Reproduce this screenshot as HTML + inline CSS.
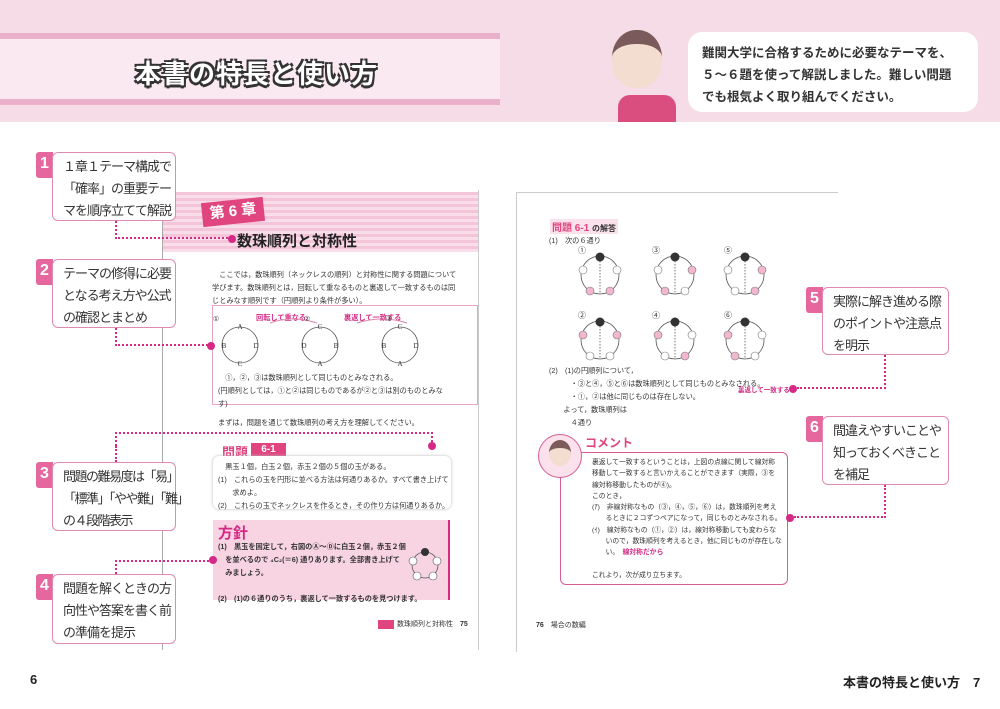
<!DOCTYPE html>
<html><head><meta charset="utf-8"><style>
*{margin:0;padding:0;box-sizing:border-box}
body{width:1000px;height:709px;position:relative;background:#fff;font-family:"Liberation Sans","Noto Sans CJK JP",sans-serif;color:#222;overflow:hidden}
.a{position:absolute}
.cb{position:absolute;background:#fff;border:1.5px solid #e08ab0;border-radius:6px;font-size:13px;letter-spacing:-1px;line-height:22px;padding:3px 0 0 10px;color:#333;white-space:nowrap}
.bd{position:absolute;width:17px;height:26px;background:#e5679e;color:#fff;font-weight:bold;font-size:16px;text-align:center;line-height:24px;border-radius:3px 0 0 3px}
.dl{position:absolute;border-color:#d42a85;border-style:dotted;border-width:0}
.dot{position:absolute;width:8px;height:8px;border-radius:50%;background:#d42a85}
.t{position:absolute;font-size:7.2px;line-height:13px;color:#333;white-space:nowrap}
</style></head><body>
<!-- header -->
<div class="a" style="left:0;top:0;width:1000px;height:122px;background:#f6dce7"></div>
<div class="a" style="left:0;top:33px;width:500px;height:72px;background:#fbe9f1;border-top:6px solid #eab0c9;border-bottom:6px solid #eab0c9"></div>
<div class="a" style="left:135px;top:54px;font-size:26px;font-weight:bold;color:#fff;letter-spacing:1px;text-shadow:-2px -2px 0 #333,2px -2px 0 #333,-2px 2px 0 #333,2px 2px 0 #333,0 3px 0 #333">本書の特長と使い方</div>
<!-- character -->
<div class="a" style="left:612px;top:30px;width:50px;height:58px;border-radius:48% 48% 45% 45%;background:#f3dcd0;border-top:14px solid #7a5a5a"></div>
<div class="a" style="left:618px;top:95px;width:58px;height:27px;background:#d94e7e;border-radius:12px 12px 0 0"></div>
<div class="a" style="left:688px;top:32px;width:290px;height:80px;background:#fff;border-radius:14px"></div>
<div class="a" style="left:702px;top:42px;font-size:12.5px;font-weight:bold;line-height:22px;color:#333;white-space:nowrap">難関大学に合格するために必要なテーマを、<br>５～６題を使って解説しました。難しい問題<br>でも根気よく取り組んでください。</div>

<!-- left page -->
<div class="a" style="left:162px;top:190px;width:317px;height:460px;border-left:1.5px solid #aaa;border-right:1px solid #ccc"></div>
<div class="a" style="left:163px;top:192px;width:315px;height:60px;background:repeating-linear-gradient(#f4c5d8 0 3px,#f9dde8 3px 6px)"></div>
<div class="a" style="left:202px;top:200px;width:62px;height:24px;background:#e0457f;color:#fff;font-weight:bold;font-size:15px;text-align:center;line-height:24px;transform:rotate(-6deg)">第 6 章</div>
<div class="a" style="left:237px;top:230px;font-size:15px;font-weight:bold;color:#222">数珠順列と対称性</div>
<div class="t" style="left:212px;top:268px">　ここでは，数珠順列（ネックレスの順列）と対称性に関する問題について<br>学びます。数珠順列とは，回転して重なるものと裏返して一致するものは同<br>じとみなす順列です（円順列より条件が多い）。</div>
<div class="a" style="left:212px;top:305px;width:266px;height:100px;border:1px solid #e8a5c3"></div>
<div class="t" style="left:256px;top:311px;color:#d42a85;font-weight:bold">回転して重なる</div>
<div class="t" style="left:344px;top:311px;color:#d42a85;font-weight:bold">裏返して一致する</div>
<svg class="a" style="left:212px;top:305px" width="266" height="70">
<g fill="none" stroke="#555" stroke-width="0.8"><circle cx="28" cy="40" r="18"/><circle cx="108" cy="40" r="18"/><circle cx="188" cy="40" r="18"/></g>
<g fill="none" stroke="#e08ab0"><path d="M58 18 Q80 10 105 18"/><path d="M145 18 Q170 10 195 18"/></g>
<g font-size="7" fill="#333" text-anchor="middle" font-family="Liberation Serif"><text x="28" y="24">A</text><text x="12" y="43">B</text><text x="44" y="43">D</text><text x="28" y="61">C</text><text x="108" y="24">C</text><text x="92" y="43">D</text><text x="124" y="43">B</text><text x="108" y="61">A</text><text x="188" y="24">C</text><text x="172" y="43">B</text><text x="204" y="43">D</text><text x="188" y="61">A</text><text x="4" y="16">①</text><text x="95" y="16">②</text><text x="177" y="16">③</text></g></svg>
<div class="t" style="left:218px;top:371px">　①，②，③は数珠順列として同じものとみなされる。<br>(円順列としては，①と②は同じものであるが②と③は別のものとみな<br>す)</div>
<div class="t" style="left:218px;top:416px">まずは，問題を通じて数珠順列の考え方を理解してください。</div>
<div class="a" style="left:222px;top:442px;font-size:13px;font-weight:bold;color:#e0457f">問題</div>
<div class="a" style="left:251px;top:443px;width:35px;height:14px;background:#e0457f;color:#fff;font-size:10px;font-weight:bold;text-align:center;line-height:14px">6-1</div>
<div class="a" style="left:213px;top:456px;width:238px;height:53px;background:#fff;border-radius:6px;box-shadow:0 0 3px #bbb"></div>
<div class="t" style="left:218px;top:460px">　黒玉１個，白玉２個，赤玉２個の５個の玉がある。<br>(1)　これらの玉を円形に並べる方法は何通りあるか。すべて書き上げて<br>　　求めよ。<br>(2)　これらの玉でネックレスを作るとき，その作り方は何通りあるか。</div>
<div class="a" style="left:213px;top:520px;width:237px;height:80px;background:#f8d3e2;border-right:2px solid #d42a85"></div>
<div class="a" style="left:218px;top:522px;font-size:15px;font-weight:bold;color:#d42a85">方針</div>
<div class="t" style="left:218px;top:540px;font-weight:bold">(1)　黒玉を固定して，右図のⒶ～Ⓓに白玉２個，赤玉２個<br>　を並べるので ₄C₂(＝6) 通りあります。全部書き上げて<br>　みましょう。<br><br>(2)　(1)の６通りのうち，裏返して一致するものを見つけます。</div>
<svg class="a" style="left:405px;top:545px" width="40" height="40"><circle cx="20" cy="20" r="13" fill="none" stroke="#555" stroke-width="0.8"/><circle cx="20" cy="7" r="4" fill="#333"/><g fill="#fff" stroke="#555" stroke-width="0.6"><circle cx="8" cy="16" r="4"/><circle cx="32" cy="16" r="4"/><circle cx="12" cy="31" r="4"/><circle cx="28" cy="31" r="4"/></g></svg>
<div class="a" style="left:378px;top:620px;width:16px;height:9px;background:#e0457f"></div>
<div class="t" style="left:397px;top:618px;font-size:7px">数珠順列と対称性　<b>75</b></div>

<!-- right page -->
<div class="a" style="left:516px;top:192px;width:322px;height:460px;border-left:1px solid #ccc;border-top:1px solid #ccc"></div>
<div class="a" style="left:550px;top:219px;font-size:10px;font-weight:bold;color:#e0457f;background:#fbe1ec;padding:0 2px">問題 6-1 <span style="color:#333;font-size:8px">の解答</span></div>
<div class="t" style="left:549px;top:234px">(1)　次の６通り</div>
<svg class="a" style="left:560px;top:245px" width="240" height="120">
<defs><g id="p"><circle cx="0" cy="20" r="19" fill="none" stroke="#555" stroke-width="0.8"/><line x1="0" y1="3" x2="0" y2="38" stroke="#777" stroke-dasharray="1.5 1.5"/><circle cx="0" cy="2" r="4.5" fill="#333"/></g></defs>
<g transform="translate(40,10)"><use href="#p"/><g stroke="#777" stroke-width="0.6"><circle cx="-17" cy="15" r="4" fill="#fff"/><circle cx="17" cy="15" r="4" fill="#fff"/><circle cx="-10" cy="36" r="4" fill="#f3b6cf"/><circle cx="10" cy="36" r="4" fill="#f3b6cf"/></g></g>
<g transform="translate(115,10)"><use href="#p"/><g stroke="#777" stroke-width="0.6"><circle cx="-17" cy="15" r="4" fill="#fff"/><circle cx="17" cy="15" r="4" fill="#f3b6cf"/><circle cx="-10" cy="36" r="4" fill="#f3b6cf"/><circle cx="10" cy="36" r="4" fill="#fff"/></g></g>
<g transform="translate(185,10)"><use href="#p"/><g stroke="#777" stroke-width="0.6"><circle cx="-17" cy="15" r="4" fill="#fff"/><circle cx="17" cy="15" r="4" fill="#f3b6cf"/><circle cx="-10" cy="36" r="4" fill="#fff"/><circle cx="10" cy="36" r="4" fill="#f3b6cf"/></g></g>
<g transform="translate(40,75)"><use href="#p"/><g stroke="#777" stroke-width="0.6"><circle cx="-17" cy="15" r="4" fill="#f3b6cf"/><circle cx="17" cy="15" r="4" fill="#f3b6cf"/><circle cx="-10" cy="36" r="4" fill="#fff"/><circle cx="10" cy="36" r="4" fill="#fff"/></g></g>
<g transform="translate(115,75)"><use href="#p"/><g stroke="#777" stroke-width="0.6"><circle cx="-17" cy="15" r="4" fill="#f3b6cf"/><circle cx="17" cy="15" r="4" fill="#fff"/><circle cx="-10" cy="36" r="4" fill="#fff"/><circle cx="10" cy="36" r="4" fill="#f3b6cf"/></g></g>
<g transform="translate(185,75)"><use href="#p"/><g stroke="#777" stroke-width="0.6"><circle cx="-17" cy="15" r="4" fill="#f3b6cf"/><circle cx="17" cy="15" r="4" fill="#fff"/><circle cx="-10" cy="36" r="4" fill="#f3b6cf"/><circle cx="10" cy="36" r="4" fill="#fff"/></g></g>
<g font-size="8" fill="#333"><text x="18" y="8">①</text><text x="92" y="8">③</text><text x="164" y="8">⑤</text><text x="18" y="73">②</text><text x="92" y="73">④</text><text x="164" y="73">⑥</text></g></svg>
<div class="t" style="left:549px;top:364px">(2)　(1)の円順列について，<br>　　　・③と④，⑤と⑥は数珠順列として同じものとみなされる。<br>　　　・①，②は他に同じものは存在しない。<br>　　よって，数珠順列は<br>　　　４通り</div>
<div class="t" style="left:738px;top:384px;color:#d42a85;font-weight:bold;font-size:6.5px">裏返して一致する</div>
<div class="a" style="left:560px;top:452px;width:228px;height:133px;border:1.5px solid #d95c95;border-radius:6px"></div>
<div class="a" style="left:538px;top:434px;width:44px;height:44px;border-radius:50%;background:#fbe1ec;border:1.5px solid #d95c95"></div>
<div class="a" style="left:549px;top:440px;width:22px;height:26px;border-radius:50%;background:#f3dcd0;border-top:8px solid #7a5a5a"></div>
<div class="a" style="left:585px;top:434px;font-size:12px;font-weight:bold;color:#e0457f">コメント</div>
<div class="t" style="left:592px;top:457px;line-height:11.3px;font-size:6.8px">裏返して一致するということは，上図の点線に関して線対称<br>移動して一致すると言いかえることができます（実際，③を<br>線対称移動したものが④)。<br>このとき，<br>(ｱ)　非線対称なもの（③，④，⑤，⑥）は，数珠順列を考え<br>　　るときに２コずつペアになって，同じものとみなされる。<br>(ｲ)　線対称なもの（①，②）は，線対称移動しても変わらな<br>　　いので，数珠順列を考えるとき，他に同じものが存在しな<br>　　い。　<span style="color:#d42a85;font-weight:bold">線対称だから</span><br><br>これより，次が成り立ちます。</div>
<div class="t" style="left:536px;top:619px;font-size:7px"><b>76</b>　場合の数編</div>

<!-- callouts -->
<div class="bd" style="left:36px;top:152px">1</div>
<div class="cb" style="left:52px;top:152px;width:124px;height:69px">１章１テーマ構成で<br>「確率」の重要テー<br>マを順序立てて解説</div>
<div class="bd" style="left:36px;top:259px">2</div>
<div class="cb" style="left:52px;top:259px;width:124px;height:69px">テーマの修得に必要<br>となる考え方や公式<br>の確認とまとめ</div>
<div class="bd" style="left:36px;top:462px">3</div>
<div class="cb" style="left:52px;top:462px;width:124px;height:69px;letter-spacing:-1.5px">問題の難易度は「易」<br>「標準」「やや難」「難」<br>の４段階表示</div>
<div class="bd" style="left:36px;top:574px">4</div>
<div class="cb" style="left:52px;top:574px;width:124px;height:70px">問題を解くときの方<br>向性や答案を書く前<br>の準備を提示</div>
<div class="bd" style="left:806px;top:287px">5</div>
<div class="cb" style="left:822px;top:287px;width:127px;height:68px">実際に解き進める際<br>のポイントや注意点<br>を明示</div>
<div class="bd" style="left:806px;top:416px">6</div>
<div class="cb" style="left:822px;top:416px;width:127px;height:69px">間違えやすいことや<br>知っておくべきこと<br>を補足</div>

<!-- connectors -->
<div class="dl" style="left:115px;top:221px;width:117px;height:18px;border-left-width:2px;border-bottom-width:2px"></div><div class="dot" style="left:228px;top:235px"></div>
<div class="dl" style="left:115px;top:328px;width:96px;height:18px;border-left-width:2px;border-bottom-width:2px"></div><div class="dot" style="left:207px;top:342px"></div>
<div class="dl" style="left:115px;top:432px;width:318px;height:14px;border-left-width:2px;border-top-width:2px;border-right-width:2px"></div>
<div class="dl" style="left:115px;top:446px;height:16px;border-left-width:2px"></div><div class="dot" style="left:428px;top:442px"></div>
<div class="dl" style="left:115px;top:560px;width:98px;height:14px;border-left-width:2px;border-top-width:2px"></div><div class="dot" style="left:209px;top:556px"></div>
<div class="dl" style="left:797px;top:355px;width:89px;height:34px;border-right-width:2px;border-bottom-width:2px"></div><div class="dot" style="left:789px;top:385px"></div>
<div class="dl" style="left:794px;top:485px;width:92px;height:33px;border-right-width:2px;border-bottom-width:2px"></div><div class="dot" style="left:786px;top:514px"></div>

<div class="a" style="left:30px;top:672px;font-size:13px;font-weight:bold">6</div>
<div class="a" style="left:843px;top:672px;font-size:13px;font-weight:bold">本書の特長と使い方　7</div>
</body></html>
